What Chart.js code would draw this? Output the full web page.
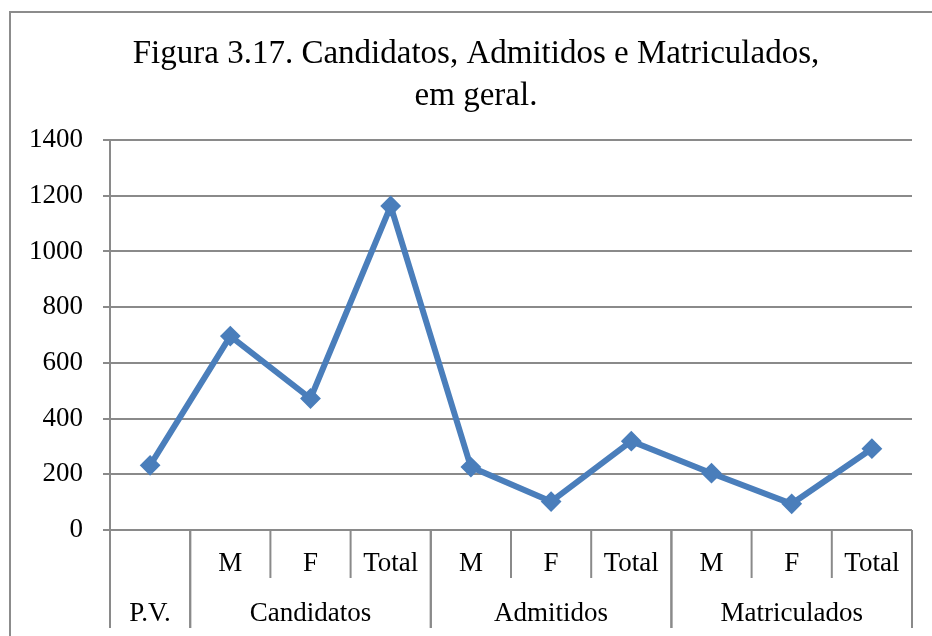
<!DOCTYPE html>
<html>
<head>
<meta charset="utf-8">
<script src="https://cdn.jsdelivr.net/npm/chart.js@4"></script>
<style>
  html, body { margin: 0; padding: 0; background: #fff; }
  #wrap { width: 932px; height: 636px; }
</style>
</head>
<body>
<div id="wrap"><canvas id="figChart" width="932" height="636"></canvas></div>
<script>
// data
const titleLines = ['Figura 3.17. Candidatos, Admitidos e Matriculados,', 'em geral.'];
const subLabels = ['', 'M', 'F', 'Total', 'M', 'F', 'Total', 'M', 'F', 'Total'];
const groupLabels = ['P.V.', 'Candidatos', 'Admitidos', 'Matriculados'];
const groupSizes = [1, 3, 3, 3];
const values = [232, 696, 472, 1163, 226, 102, 319, 204, 94, 292];
const yTicks = [0, 200, 400, 600, 800, 1000, 1200, 1400];

const gridColor = '#8a8a8a';
const labelFont = '27px "Liberation Serif", serif';

// full category names so tooltips make sense
const categories = [];
groupSizes.forEach((n, g) => {
    for (let k = 0; k < n; k++) {
        const s = subLabels[categories.length];
        categories.push(s ? groupLabels[g] + ' ' + s : groupLabels[g]);
    }
});

// frame around the whole figure + title
const framePlugin = {
    id: 'frame',
    beforeDraw(chart) {
        const c = chart.ctx;
        c.save();
        c.fillStyle = '#fff';
        c.fillRect(0, 0, chart.width, chart.height);
        c.strokeStyle = '#8c8c8c';
        c.lineWidth = 2;
        c.strokeRect(10, 12, chart.width + 20, chart.height + 20);
        c.fillStyle = '#000';
        c.font = '33px "Liberation Serif", serif';
        c.textAlign = 'center';
        c.textBaseline = 'alphabetic';
        c.fillText(titleLines[0], 476, 63);
        c.fillText(titleLines[1], 476, 105);
        c.restore();
    }
};

// two-level category axis (sub labels + group labels with separators)
const groupAxisPlugin = {
    id: 'groupAxis',
    afterDraw(chart) {
        const x = chart.scales.x;
        const c = chart.ctx;
        const bottom = chart.chartArea.bottom;
        const half = (x.getPixelForValue(1) - x.getPixelForValue(0)) / 2;
        c.save();
        c.strokeStyle = gridColor;
        c.lineWidth = 2;
        c.fillStyle = '#000';
        c.font = labelFont;
        c.textAlign = 'center';
        c.textBaseline = 'alphabetic';

        let idx = 0;
        groupSizes.forEach((n, g) => {
            const left = x.getPixelForValue(idx) - half;
            const right = x.getPixelForValue(idx + n - 1) + half;
            // group boundary lines go the whole depth
            c.beginPath();
            c.moveTo(left, bottom);
            c.lineTo(left, bottom + 98);
            c.moveTo(right, bottom);
            c.lineTo(right, bottom + 98);
            c.stroke();
            for (let k = 0; k < n; k++) {
                const i = idx + k;
                const px = x.getPixelForValue(i);
                if (k > 0) {
                    c.beginPath();
                    c.moveTo(px - half, bottom);
                    c.lineTo(px - half, bottom + 48);
                    c.stroke();
                }
                if (subLabels[i]) c.fillText(subLabels[i], px, bottom + 41);
            }
            c.fillText(groupLabels[g], (left + right) / 2, bottom + 91);
            idx += n;
        });
        c.restore();
    }
};

const ctx = document.getElementById('figChart').getContext('2d');
new Chart(ctx, {
    type: 'line',
    data: {
        labels: categories,
        datasets: [{
            label: 'Total',
            data: values,
            borderColor: '#4a7ebb',
            backgroundColor: '#4a7ebb',
            borderWidth: 6,
            pointStyle: 'rectRot',
            pointRadius: 9,
            pointHoverRadius: 10,
            pointBorderWidth: 2,
            tension: 0
        }]
    },
    options: {
        responsive: false,
        animation: false,
        layout: { padding: { top: 140, right: 20, bottom: 0, left: 0 } },
        plugins: {
            legend: { display: false },
            title: { display: false }
        },
        scales: {
            x: {
                offset: true,
                grid: { display: false },
                border: { display: false },
                ticks: { display: false },
                afterFit(scale) { scale.height = 106; }
            },
            y: {
                min: 0,
                max: 1400,
                afterBuildTicks(scale) { scale.ticks = yTicks.map(v => ({ value: v })); },
                grid: { color: gridColor, lineWidth: 2, tickLength: 7 },
                border: { color: gridColor, width: 2 },
                ticks: {
                    color: '#000',
                    font: { family: '"Liberation Serif", serif', size: 27 },
                    padding: 20,
                    callback: v => String(v)
                },
                afterFit(scale) { scale.width = 110; }
            }
        }
    },
    plugins: [framePlugin, groupAxisPlugin]
});
</script>
</body>
</html>
